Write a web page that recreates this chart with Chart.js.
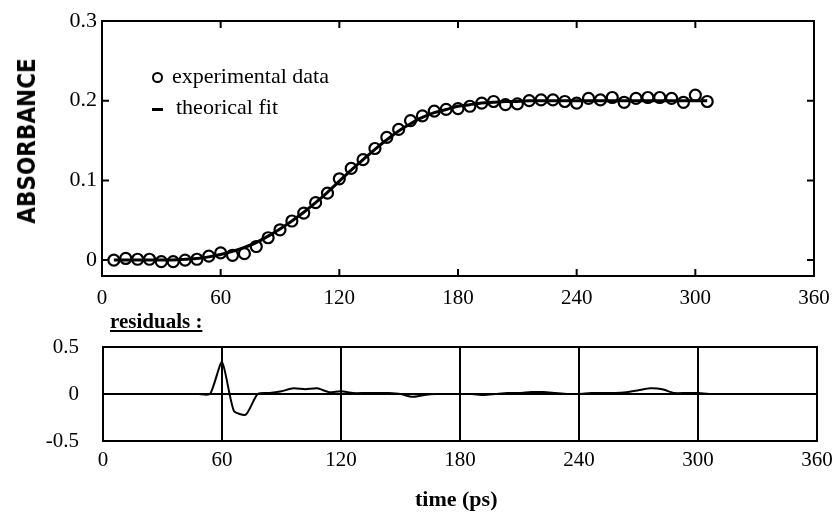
<!DOCTYPE html>
<html>
<head>
<meta charset="utf-8">
<script src="https://cdn.jsdelivr.net/npm/chart.js@4.4.0/dist/chart.umd.min.js"></script>
<style>
  body { margin: 0; background: #fff; }
  #wrap { position: relative; width: 833px; height: 513px; overflow: hidden; font-family: "Liberation Serif", "Times New Roman", serif; color: #000; }
  .box { position: absolute; left: 0; width: 833px; }
  #top { top: 0; height: 320px; }
  #bot { top: 320px; height: 193px; }
  .lbl { position: absolute; white-space: nowrap; line-height: 1; }
  #yTitle { left: 27px; top: 141px; transform: translate(-50%, -50%) rotate(-90deg); font-family: "DejaVu Sans Condensed", "DejaVu Sans", sans-serif; font-weight: bold; font-size: 24px; }
  #leg1 { left: 172px; top: 65px; font-size: 22px; }
  #leg2 { left: 176px; top: 96px; font-size: 22px; }
  #legCirc { position: absolute; left: 152px; top: 72px; width: 7px; height: 7px; border: 2px solid #000; border-radius: 50%; }
  #legDash { position: absolute; left: 152px; top: 108px; width: 11px; height: 3px; background: #000; }
  #resTitle { left: 110px; top: 311px; font-size: 21px; font-weight: bold; text-decoration: underline; }
  #xTitle { left: 415px; top: 488px; font-size: 22px; font-weight: bold; }
</style>
</head>
<body>
<div id="wrap">
  <div class="box" id="top"><canvas id="absChart"></canvas></div>
  <div class="box" id="bot"><canvas id="resChart"></canvas></div>
  <div class="lbl" id="yTitle">ABSORBANCE</div>
  <div id="legCirc"></div>
  <div class="lbl" id="leg1">experimental data</div>
  <div id="legDash"></div>
  <div class="lbl" id="leg2">theorical fit</div>
  <div class="lbl" id="resTitle">residuals :</div>
  <div class="lbl" id="xTitle">time (ps)</div>
</div>
<script>
// temps de mesure (ps)
const times = [6, 12, 18, 24, 30, 36, 42, 48, 54, 60, 66, 72, 78, 84, 90, 96, 102, 108, 114, 120,
  126, 132, 138, 144, 150, 156, 162, 168, 174, 180, 186, 192, 198, 204, 210, 216, 222, 228, 234, 240,
  246, 252, 258, 264, 270, 276, 282, 288, 294, 300, 306];

// points experimentaux (cercles)
const absorbance = [0.000, 0.002, 0.001, 0.001, -0.002, -0.002, 0.000, 0.001, 0.005, 0.009,
  0.006, 0.008, 0.017, 0.028, 0.038, 0.049, 0.059, 0.072, 0.084, 0.102,
  0.115, 0.126, 0.140, 0.154, 0.164, 0.175, 0.181, 0.187, 0.189, 0.190,
  0.193, 0.197, 0.199, 0.195, 0.196, 0.200, 0.201, 0.201, 0.199, 0.197,
  0.203, 0.201, 0.204, 0.198, 0.203, 0.204, 0.204, 0.203, 0.198, 0.207, 0.199];

// ajustement theorique
const fit = [0.000, 0.000, 0.000, 0.000, 0.000, 0.000, 0.001, 0.002, 0.004, 0.007,
  0.011, 0.016, 0.022, 0.030, 0.039, 0.049, 0.060, 0.072, 0.085, 0.099,
  0.113, 0.126, 0.139, 0.151, 0.162, 0.171, 0.179, 0.185, 0.189, 0.193,
  0.195, 0.197, 0.198, 0.199, 0.199, 0.200, 0.200, 0.200, 0.200, 0.200,
  0.200, 0.200, 0.200, 0.200, 0.200, 0.200, 0.200, 0.200, 0.200, 0.200, 0.200];

// residus
const residuals = [0, 0, 0, 0, 0, 0, 0, 0, 0, 0.34,
  -0.18, -0.22, 0, 0.01, 0.03, 0.06, 0.05, 0.06, 0.02, 0.03,
  0.01, 0.01, 0.01, 0.01, 0, -0.03, -0.01, 0, 0, 0,
  0, -0.01, 0, 0.01, 0.01, 0.02, 0.02, 0.01, 0, 0,
  0.01, 0.01, 0.01, 0.02, 0.04, 0.06, 0.05, 0.01, 0.01, 0.01, 0];

// graduations
const xTicks = [0, 60, 120, 180, 240, 300, 360];
const absTicks = [0, 0.1, 0.2, 0.3];
const absTickLabels = ['0', '0.1', '0.2', '0.3'];
const resTicks = [-0.5, 0, 0.5];
const resTickLabels = ['-0.5', '0', '0.5'];

const serif = "'Liberation Serif', 'Times New Roman', serif";

function pairs(ys) {
  return ys.map((v, i) => ({ x: times[i], y: v }));
}

// taille fixe des axes, sans marge ajoutee par les etiquettes
function fixX(h) {
  return s => { s.height = h; s.paddingLeft = 0; s.paddingRight = 0; };
}
function fixY(w) {
  return s => { s.width = w; s.paddingTop = 0; s.paddingBottom = 0; };
}

// cadre + petites graduations interieures
const frameTicks = {
  id: 'frameTicks',
  afterDraw(chart, args, opts) {
    const { ctx, chartArea: a, scales } = chart;
    ctx.save();
    ctx.strokeStyle = '#000';
    ctx.lineWidth = 2;
    ctx.strokeRect(a.left, a.top, a.right - a.left, a.bottom - a.top);
    if (opts.tickLen) {
      ctx.beginPath();
      scales.x.ticks.forEach(t => {
        let px = scales.x.getPixelForValue(t.value);
        ctx.moveTo(px, a.top); ctx.lineTo(px, a.top + opts.tickLen);
        ctx.moveTo(px, a.bottom); ctx.lineTo(px, a.bottom - opts.tickLen);
      });
      scales.y.ticks.forEach(t => {
        let py = scales.y.getPixelForValue(t.value);
        ctx.moveTo(a.left, py); ctx.lineTo(a.left + opts.tickLen, py);
        ctx.moveTo(a.right, py); ctx.lineTo(a.right - opts.tickLen, py);
      });
      ctx.stroke();
    }
    ctx.restore();
  }
};

new Chart(document.getElementById('absChart'), {
  type: 'line',
  data: {
    datasets: [{
      label: 'experimental data',
      data: pairs(absorbance),
      showLine: false,
      pointStyle: 'circle',
      pointRadius: 5.5,
      pointBorderWidth: 2.2,
      pointBorderColor: '#000',
      pointBackgroundColor: 'rgba(0,0,0,0)'
    }, {
      label: 'theorical fit',
      data: pairs(fit),
      borderColor: '#000',
      borderWidth: 3,
      pointRadius: 0,
      cubicInterpolationMode: 'monotone'
    }]
  },
  options: {
    responsive: true,
    maintainAspectRatio: false,
    animation: false,
    layout: { padding: { top: 21, right: 19, left: 0, bottom: 0 } },
    plugins: {
      legend: { display: false },
      tooltip: { enabled: false },
      frameTicks: { tickLen: 7 }
    },
    scales: {
      x: {
        type: 'linear', min: 0, max: 360,
        afterBuildTicks: s => { s.ticks = xTicks.map(v => ({ value: v })); },
        afterFit: fixX(44),
        grid: { display: false, drawTicks: false },
        border: { display: false },
        ticks: { color: '#000', padding: 10, maxRotation: 0, font: { family: serif, size: 21 } }
      },
      y: {
        min: -0.02, max: 0.3,
        afterBuildTicks: s => { s.ticks = absTicks.map(v => ({ value: v })); },
        afterFit: fixY(102),
        grid: { display: false, drawTicks: false },
        border: { display: false },
        ticks: {
          color: '#000', padding: 5, font: { family: serif, size: 22 },
          callback: (v, i) => absTickLabels[i]
        }
      }
    }
  },
  plugins: [frameTicks]
});

new Chart(document.getElementById('resChart'), {
  type: 'line',
  data: {
    datasets: [{
      label: 'residuals',
      data: pairs(residuals),
      borderColor: '#000',
      borderWidth: 2,
      pointRadius: 0,
      tension: 0.2
    }]
  },
  options: {
    responsive: true,
    maintainAspectRatio: false,
    animation: false,
    layout: { padding: { top: 27, right: 16, left: 0, bottom: 0 } },
    plugins: {
      legend: { display: false },
      tooltip: { enabled: false },
      frameTicks: { tickLen: 0 }
    },
    scales: {
      x: {
        type: 'linear', min: 0, max: 360,
        afterBuildTicks: s => { s.ticks = xTicks.map(v => ({ value: v })); },
        afterFit: fixX(72),
        grid: { color: '#000', lineWidth: 2, drawTicks: false },
        border: { display: false },
        ticks: { color: '#000', padding: 7, maxRotation: 0, font: { family: serif, size: 21 } }
      },
      y: {
        min: -0.5, max: 0.5,
        afterBuildTicks: s => { s.ticks = resTicks.map(v => ({ value: v })); },
        afterFit: fixY(103),
        grid: { color: '#000', lineWidth: 2, drawTicks: false },
        border: { display: false },
        ticks: {
          color: '#000', padding: 24, font: { family: serif, size: 21 },
          callback: (v, i) => resTickLabels[i]
        }
      }
    }
  },
  plugins: [frameTicks]
});
</script>
</body>
</html>
